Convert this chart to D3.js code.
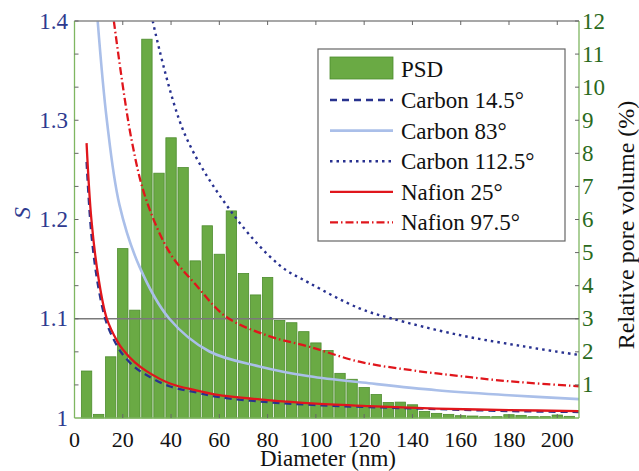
<!DOCTYPE html>
<html>
<head>
<meta charset="utf-8">
<script src="https://cdn.jsdelivr.net/npm/d3@7"></script>
<style>
  body { margin: 0; background: #fff; }
</style>
</head>
<body>
<div id="chart"></div>
<script>
// data
var binCenters = [5,10,15,20,25,30,35,40,45,50,55,60,65,70,75,80,85,90,95,100,
  105,110,115,120,125,130,135,140,145,150,155,160,165,170,175,180,185,190,195,200,205];
var psd = [1.42,0.11,1.85,5.12,3.26,11.45,7.40,8.47,7.57,4.75,5.81,4.95,6.26,4.37,3.72,4.25,2.95,2.88,2.61,2.27,
  2.04,1.35,1.17,0.92,0.71,0.47,0.48,0.40,0.20,0.14,0.11,0.07,0.06,0.04,0.04,0.10,0.08,0.04,0.04,0.09,0.05];

var carbon14 = [[5,1.258],[7,1.185],[10,1.13],[13.4,1.095],[17.8,1.072],[20,1.064],[25,1.051],[30,1.043],
  [39.3,1.032],[50,1.026],[60,1.021],[80,1.016],[100,1.013],[122,1.011],[150,1.009],[180,1.007],[209,1.006]];
var carbon83 = [[9.6,1.40],[13.4,1.30],[18.6,1.215],[27,1.152],[39.3,1.10],[55.9,1.067],[76.6,1.052],
  [97.3,1.042],[122,1.035],[150,1.028],[180,1.023],[209,1.019]];
var carbon112 = [[32.4,1.40],[45.5,1.287],[65.5,1.206],[84.9,1.154],[97.3,1.136],[118,1.1105],[131,1.1005],
  [159.4,1.0836],[187,1.0718],[209,1.0635]];
var nafion25 = [[5,1.277],[7,1.2],[10,1.14],[13.4,1.10],[17.8,1.077],[20,1.069],[25,1.056],[30,1.047],
  [39.3,1.035],[50,1.028],[60,1.023],[80,1.018],[100,1.0145],[122,1.012],[150,1.0095],[180,1.008],[209,1.007]];
var nafion97 = [[16.3,1.40],[23.5,1.282],[29.7,1.22],[39.6,1.166],[50,1.135],[62.8,1.102],[80,1.083],
  [97.3,1.0718],[118,1.0567],[140,1.048],[159.4,1.0423],[180,1.037],[209,1.032]];

var xTicks = [0,20,40,60,80,100,120,140,160,180,200];
var leftTicks = [1,1.1,1.2,1.3,1.4];
var rightTicks = [1,2,3,4,5,6,7,8,9,10,11,12];

var W = 639, H = 471;
var L = 74.5, R = 579, T = 21, B = 418;
var FONT = "Liberation Serif";

var svg = d3.select("#chart").append("svg").attr("width", W).attr("height", H);

var x = d3.scaleLinear().domain([0, 209]).range([L, R]);
var yS = d3.scaleLinear().domain([1, 1.4]).range([B, T]);
var yV = d3.scaleLinear().domain([0, 12]).range([B, T]);

svg.append("clipPath").attr("id", "clip")
  .append("rect").attr("x", L).attr("y", T).attr("width", R - L).attr("height", B - T);

// bars
var bw = x(4.3) - x(0);
svg.append("g").selectAll("rect").data(binCenters).enter().append("rect")
  .attr("x", function(d) { return x(d) - bw / 2; })
  .attr("y", function(d, i) { return yV(psd[i]); })
  .attr("width", bw)
  .attr("height", function(d, i) { return B - yV(psd[i]); })
  .attr("fill", "#6aaa44")
  .attr("stroke", "#4d8c2e")
  .attr("stroke-width", 0.8);

// reference line at S = 1.1
svg.append("line").attr("x1", L).attr("x2", R).attr("y1", yS(1.1)).attr("y2", yS(1.1))
  .attr("stroke", "#7a7a7a").attr("stroke-width", 1.5);

// curves
var series = [
  {name: "Carbon 14.5°", data: carbon14, color: "#28338e", width: 2.3, dash: "7,5"},
  {name: "Carbon 83°", data: carbon83, color: "#aabfe9", width: 2.6, dash: null},
  {name: "Carbon 112.5°", data: carbon112, color: "#283190", width: 2.4, dash: "2.5,4"},
  {name: "Nafion 25°", data: nafion25, color: "#e0161c", width: 2.3, dash: null},
  {name: "Nafion 97.5°", data: nafion97, color: "#e0161c", width: 2.3, dash: "8,3,1.5,3"}
];
var line = d3.line()
  .x(function(d) { return x(d[0]); })
  .y(function(d) { return yS(d[1]); })
  .curve(d3.curveCatmullRom.alpha(0.5));

var drawOrder = [1, 0, 3, 4, 2];
drawOrder.forEach(function(k) {
  var s = series[k];
  svg.append("path").attr("d", line(s.data)).attr("clip-path", "url(#clip)")
    .attr("fill", "none").attr("stroke", s.color).attr("stroke-width", s.width)
    .attr("stroke-dasharray", s.dash);
});

// frame
svg.append("line").attr("x1", L).attr("x2", R).attr("y1", T).attr("y2", T)
  .attr("stroke", "#8a8a8a").attr("stroke-width", 1.3);
svg.append("line").attr("x1", L).attr("x2", R).attr("y1", B).attr("y2", B)
  .attr("stroke", "#7fb661").attr("stroke-width", 1.3);
svg.append("line").attr("x1", L).attr("x2", L).attr("y1", T).attr("y2", B)
  .attr("stroke", "#7fb661").attr("stroke-width", 1.3);
svg.append("line").attr("x1", R).attr("x2", R).attr("y1", T).attr("y2", B)
  .attr("stroke", "#7fb661").attr("stroke-width", 1.3);

// tick marks
var tk = svg.append("g").attr("stroke", "#666").attr("stroke-width", 1);
xTicks.slice(1).forEach(function(t) {
  tk.append("line").attr("x1", x(t)).attr("x2", x(t)).attr("y1", B).attr("y2", B - 4);
  tk.append("line").attr("x1", x(t)).attr("x2", x(t)).attr("y1", T).attr("y2", T + 4);
});
rightTicks.forEach(function(t) {
  tk.append("line").attr("x1", L).attr("x2", L + 4).attr("y1", yV(t)).attr("y2", yV(t));
  tk.append("line").attr("x1", R).attr("x2", R - 4).attr("y1", yV(t)).attr("y2", yV(t));
});

// tick labels
svg.append("g").selectAll("text").data(xTicks).enter().append("text")
  .attr("font-family", FONT)
  .attr("x", function(d) { return x(d); }).attr("y", 447)
  .attr("text-anchor", "middle").attr("font-size", 22).attr("fill", "#111")
  .text(function(d) { return d; });
svg.append("g").selectAll("text").data(leftTicks).enter().append("text")
  .attr("font-family", FONT)
  .attr("x", 68).attr("y", function(d) { return yS(d) + 7.5; })
  .attr("text-anchor", "end").attr("font-size", 23).attr("fill", "#2e3a8f")
  .text(function(d) { return d === 1 ? "1" : d3.format(".1f")(d); });
svg.append("g").selectAll("text").data(rightTicks).enter().append("text")
  .attr("font-family", FONT)
  .attr("x", 582).attr("y", function(d) { return yV(d) + 7.5; })
  .attr("text-anchor", "start").attr("font-size", 23).attr("fill", "#2a6a1c")
  .text(function(d) { return d; });

// axis titles
svg.append("text").attr("font-family", FONT).attr("x", 328).attr("y", 466).attr("text-anchor", "middle")
  .attr("font-size", 23).attr("fill", "#111").text("Diameter (nm)");
svg.append("text").attr("font-family", FONT).attr("transform", "translate(30,213) rotate(-90)")
  .attr("text-anchor", "middle")
  .attr("font-size", 24).attr("font-style", "italic").attr("fill", "#2e3a8f").text("S");
svg.append("text").attr("font-family", FONT).attr("transform", "translate(634,225) rotate(-90)")
  .attr("text-anchor", "middle")
  .attr("font-size", 24).attr("fill", "#111").text("Relative pore volume (%)");

// legend
var lg = svg.append("g");
lg.append("rect").attr("x", 318).attr("y", 49).attr("width", 247).attr("height", 192)
  .attr("fill", "#fff").attr("stroke", "#666").attr("stroke-width", 1.2);
lg.append("rect").attr("x", 330).attr("y", 57).attr("width", 63).attr("height", 22)
  .attr("fill", "#6aaa44").attr("stroke", "#4d8c2e").attr("stroke-width", 0.8);
lg.append("text").attr("font-family", FONT).attr("x", 401).attr("y", 77)
  .attr("font-size", 23).attr("fill", "#111").text("PSD");
series.forEach(function(s, i) {
  var cy = 100 + i * 30.6;
  lg.append("line").attr("x1", 330).attr("x2", 393).attr("y1", cy).attr("y2", cy)
    .attr("stroke", s.color).attr("stroke-width", s.width).attr("stroke-dasharray", s.dash);
  lg.append("text").attr("font-family", FONT).attr("x", 401).attr("y", cy + 8)
    .attr("font-size", 23).attr("fill", "#111").text(s.name);
});
</script>
</body>
</html>
